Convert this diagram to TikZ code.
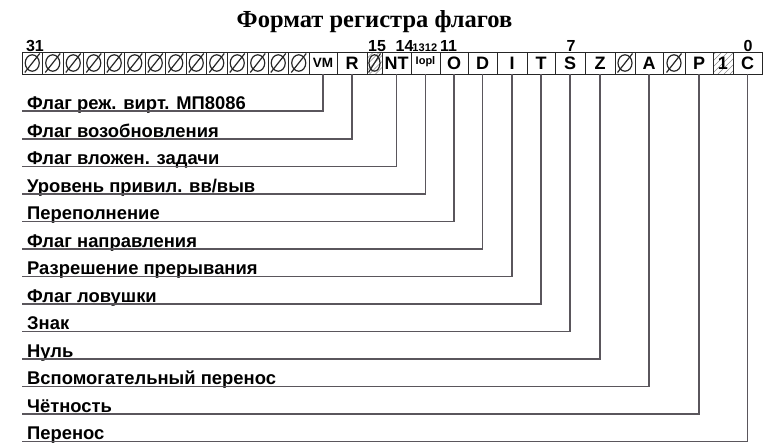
\documentclass[tikz,border=0pt]{standalone}
\usepackage{fontspec}
\setmainfont{Liberation Sans}
\newfontfamily\titlefont{Liberation Serif}
\usetikzlibrary{calc}
\definecolor{linegray}{HTML}{5A565C}
\newcommand{\myhatch}{\foreach \d in {-24,-18,...,24}{
        \draw[black!45, line width=0.5pt] ([shift={(\d pt-11pt,-11pt)}]path picture bounding box.center) -- ([shift={(\d pt+11pt,11pt)}]path picture bounding box.center);}}
\newcommand{\mynull}[1]{\draw[line width=1.2pt] (path picture bounding box.center) circle[x radius=#1pt, y radius=8.2pt];
      \draw[line width=1.2pt] ([shift={(-#1pt-0.5pt,-9.5pt)}]path picture bounding box.center) -- ([shift={(#1pt+0.5pt,9.5pt)}]path picture bounding box.center);}
\tikzset{
  cell/.style={draw=black!85, line width=0.8pt, minimum height=22pt, inner sep=0pt, outer sep=0pt, font=\bfseries\fontsize{18}{18}\selectfont},
  resv/.style={cell, path picture={\mynull{7}}},
  resvhatch/.style={cell, path picture={\myhatch\mynull{5.5}}},
  hatch/.style={cell, path picture={\myhatch}},
  conn/.style={draw=linegray, line width=1.3pt},
  lab/.style={anchor=base west, inner sep=0pt, font=\bfseries\fontsize{18.4}{18.4}\selectfont},
  bitno/.style={anchor=base, inner sep=0pt, font=\bfseries\fontsize{16}{16}\selectfont},
  bitsm/.style={anchor=base, inner sep=0pt, font=\bfseries\fontsize{11}{11}\selectfont},
}
\newcommand{\mkcell}[5]{\node[#1, minimum width={#4-#3}] (#2) at ({(#3+#4)/2},63) {#5};}
\begin{document}
\begin{tikzpicture}[x=1pt,y=-1pt]
\useasboundingbox[fill=white] (0,0) rectangle (764,446);
\node[anchor=base, inner sep=0pt, font=\titlefont\bfseries\fontsize{24.5}{24.5}\selectfont] (title) at (374.5,28) {Формат регистра флагов};
% reserved cells 31..18
\foreach \i in {0,...,13}{
  \pgfmathsetmacro{\xa}{22+20.5*\i}
  \pgfmathsetmacro{\xb}{22+20.5*(\i+1)}
  \pgfmathtruncatemacro{\bn}{31-\i}
  \node[resv, minimum width={\xb-\xa}] (b\bn) at ({(\xa+\xb)/2},63) {};
}
\mkcell{cell}{cVM}{309}{337}{\fontsize{13.5}{13.5}\selectfont VM}
\mkcell{cell}{cR}{337}{367}{R}
\mkcell{resvhatch}{b15}{367}{382}{}
\mkcell{cell}{cNT}{382}{411}{NT}
\mkcell{cell}{cIOPL}{411}{440}{\raisebox{4pt}{\fontsize{11}{11}\selectfont Iopl}}
\mkcell{cell}{cO}{440}{468}{O}
\mkcell{cell}{cD}{468}{497}{D}
\mkcell{cell}{cI}{497}{527}{I}
\mkcell{cell}{cT}{527}{555}{T}
\mkcell{cell}{cS}{555}{585}{S}
\mkcell{cell}{cZ}{585}{615}{Z}
\mkcell{resv}{b5}{615}{635}{}
\mkcell{cell}{cA}{635}{663}{A}
\mkcell{resv}{b3}{663}{685}{}
\mkcell{cell}{cP}{685}{713}{P}
\mkcell{hatch}{b1}{713}{733}{1}
\mkcell{cell}{cC}{733}{762}{C}
% bit numbers
\node[bitno] (n31) at (35,51.5) {31};
\node[bitno] (n15) at (377,51.5) {15};
\node[bitno] (n14) at (404.5,51.5) {14};
\node[bitsm] (n13) at (418.5,51.5) {13};
\node[bitsm] (n12) at (431,51.5) {12};
\node[bitno] (n11) at (448.5,51.5) {11};
\node[bitno] (n7) at (571,51.5) {7};
\node[bitno] (n0) at (748,51.5) {0};
% labels and connectors
\foreach \nm/\yy/\txt in {
  cVM/111/{Флаг реж. вирт. МП8086},
  cR/139/{Флаг возобновления},
  cNT/166.5/{Флаг вложен. задачи},
  cIOPL/194/{Уровень привил. вв/выв},
  cO/221.5/{Переполнение},
  cD/249/{Флаг направления},
  cI/276.5/{Разрешение прерывания},
  cT/304/{Флаг ловушки},
  cS/331.5/{Знак},
  cZ/359/{Нуль},
  cA/386.5/{Вспомогательный перенос},
  cP/414/{Чётность},
  cC/441.5/{Перенос}}{
  \node[lab] (t\nm) at (27,\yy-1.5) {\txt};
  \coordinate (e\nm) at (22,\yy);
  \draw[conn] (\nm) |- (e\nm);
}
\end{tikzpicture}
\end{document}
